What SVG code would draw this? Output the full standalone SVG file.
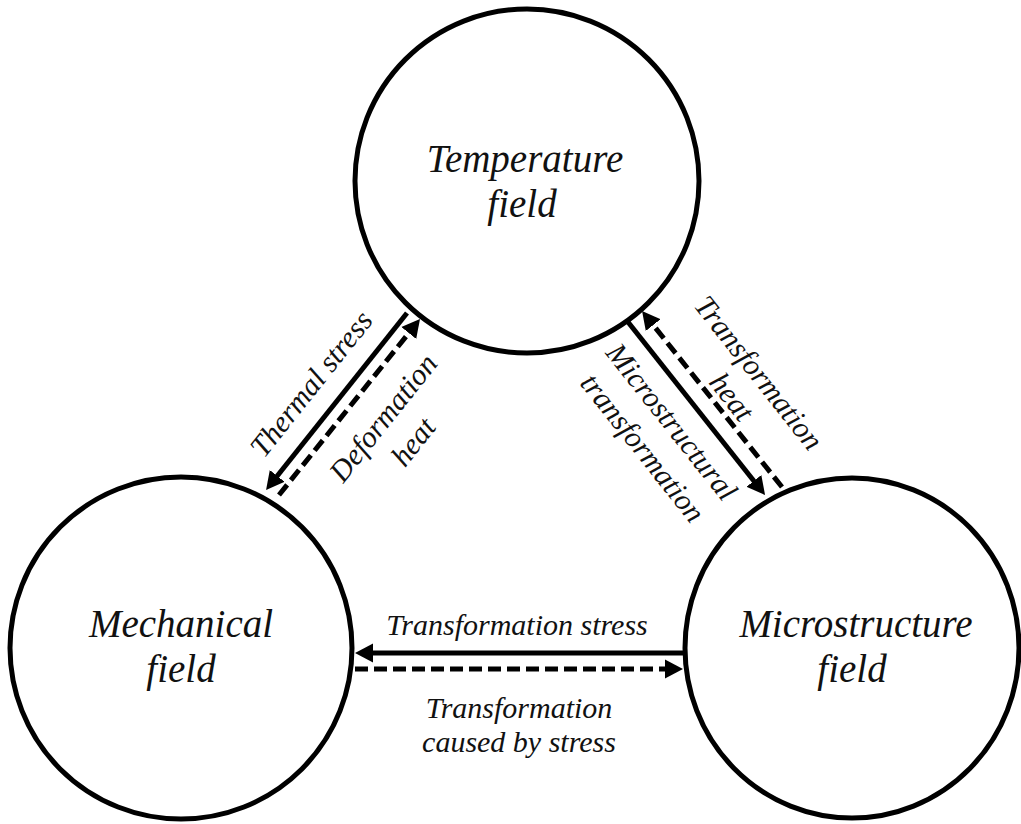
<svg xmlns="http://www.w3.org/2000/svg" width="1021" height="824" viewBox="0 0 1021 824">
  <style>
    .node circle, .node ellipse { fill: #ffffff; stroke: #000000; stroke-width: 5; }
    .nt { font-family: "Liberation Serif", "Times New Roman", serif; font-style: italic; font-size: 39px; text-anchor: middle; fill: #111111; }
    .et { font-family: "Liberation Serif", "Times New Roman", serif; font-style: italic; font-size: 30px; text-anchor: middle; fill: #111111; }
    .solid { stroke: #000000; stroke-width: 5; fill: none; marker-end: url(#ah); }
    .dash { stroke: #000000; stroke-width: 5; fill: none; stroke-dasharray: 13 6; marker-end: url(#ah); }
  </style>
  <defs>
    <marker id="ah" markerUnits="userSpaceOnUse" markerWidth="20" markerHeight="20" viewBox="0 -10 20 20" refX="2" refY="0" orient="auto">
      <path d="M0,-9.5 L18,0 L0,9.5 z" fill="#000000"/>
    </marker>
  </defs>
  <rect width="1021" height="824" fill="#ffffff"/>

  <g id="temperature" class="node">
    <circle cx="527" cy="181" r="172"/>
    <text class="nt" x="525" y="172">Temperature</text>
    <text class="nt" x="522" y="217">field</text>
  </g>
  <g id="mechanical" class="node">
    <circle cx="181" cy="648" r="171"/>
    <text class="nt" x="181" y="637">Mechanical</text>
    <text class="nt" x="181" y="682">field</text>
  </g>
  <g id="microstructure" class="node">
    <ellipse cx="852" cy="648" rx="167" ry="170"/>
    <text class="nt" x="856" y="637">Microstructure</text>
    <text class="nt" x="852" y="682">field</text>
  </g>

  <g id="connectors">
    <line class="solid" x1="407" y1="313" x2="276" y2="477.5"/>
    <line class="dash" x1="279" y1="495" x2="410" y2="331.5"/>
    <line class="solid" x1="628" y1="322" x2="755.1" y2="482.5"/>
    <line class="dash" x1="782" y1="487" x2="652" y2="323.5"/>
    <line class="solid" x1="683" y1="653" x2="371" y2="653"/>
    <line class="dash" x1="355" y1="669" x2="667" y2="669"/>
  </g>

  <g id="labels">
    <text class="et" transform="translate(319,390) rotate(-51.5)">Thermal stress</text>
    <text class="et" transform="translate(391,424) rotate(-51.5)">Deformation</text>
    <text class="et" transform="translate(421,448) rotate(-51.5)">heat</text>
    <text class="et" transform="translate(751,379) rotate(51.6)">Transformation</text>
    <text class="et" transform="translate(724,403) rotate(51.6)">heat</text>
    <text class="et" transform="translate(664,428) rotate(51.6)">Microstructural</text>
    <text class="et" transform="translate(635,454) rotate(51.6)">transformation</text>
    <text class="et" x="517" y="635">Transformation stress</text>
    <text class="et" x="519" y="718">Transformation</text>
    <text class="et" x="519" y="752">caused by stress</text>
  </g>
</svg>
